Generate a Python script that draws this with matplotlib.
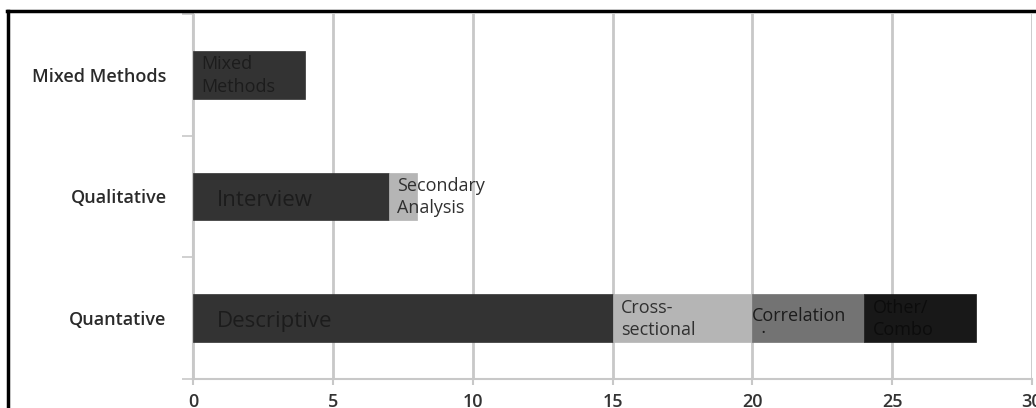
import matplotlib
matplotlib.use("Agg")
import matplotlib.pyplot as plt
from matplotlib.lines import Line2D

plt.rcParams['font.family'] = ['Open Sans', 'DejaVu Sans']

# Study designs grouped by research approach
categories = ["Quantative", "Qualitative", "Mixed Methods"]

quant_labels = ["Descriptive", "Cross-\nsectional", "Correlation\n  .", "Other/\nCombo"]
quant_values = [15, 5, 4, 4]
quant_colors = ["#333333", "#b5b5b5", "#737373", "#181818"]
quant_text = ["#1c1c1c", "#303030", "#1c1c1c", "#0c0c0c"]

qual_labels = ["Interview", "Secondary\nAnalysis"]
qual_values = [7, 1]
qual_colors = ["#333333", "#b5b5b5"]
qual_text = ["#1c1c1c", "#303030"]

mixed_labels = ["Mixed\nMethods"]
mixed_values = [4]
mixed_colors = ["#333333"]
mixed_text = ["#1c1c1c"]

x_ticks = [0, 5, 10, 15, 20, 25, 30]

W, H = 1036, 408
fig = plt.figure(figsize=(W / 100, H / 100), dpi=100)
ax = fig.add_axes([193 / W, (H - 379) / H, (1032 - 193) / W, (379 - 14) / H])

rows = [
    (0, quant_labels, quant_values, quant_colors, quant_text),
    (1, qual_labels, qual_values, qual_colors, qual_text),
    (2, mixed_labels, mixed_values, mixed_colors, mixed_text),
]

bar_h = 0.39
for y, labels, values, colors, tcols in rows:
    left = 0
    for lab, val, col, tc in zip(labels, values, colors, tcols):
        ax.barh(y, val, left=left, height=bar_h, color=col, edgecolor=col,
                linewidth=0.5, zorder=3)
        if "\n" not in lab:
            ax.text(left + 0.85, y - 0.03, lab, ha="left", va="center",
                    fontsize=16, color=tc, zorder=4)
        elif lab.endswith("."):
            # the stray dot sits tight under its label
            ax.text(left + 0.0, y - 0.03, lab, ha="left", va="center",
                    fontsize=13, color=tc, linespacing=0.6, zorder=4)
        else:
            ax.text(left + 0.3, y - 0.005, lab, ha="left", va="center",
                    fontsize=13, color=tc, linespacing=1.3, zorder=4)
        left += val

ax.set_xlim(0, 30)
ax.set_ylim(-0.5, 2.5)
ax.set_xticks(x_ticks)
ax.set_xticklabels([str(t) for t in x_ticks], fontsize=13, color="#333333",
                   fontweight="semibold")
ax.set_yticks([0, 1, 2])
ax.set_yticklabels(categories, fontsize=13, color="#2a2a2a", fontweight="semibold")
ax.set_yticks([-0.5, 0.5, 1.5, 2.5], minor=True)

ax.tick_params(axis="y", which="major", length=0, pad=19)
ax.tick_params(axis="y", which="minor", length=8, width=1.2, color="#c8c8c8", direction="out")
ax.tick_params(axis="x", which="major", length=4, width=1.5, color="#c8c8c8", pad=6)

ax.grid(axis="x", color="#c8c8c8", linewidth=2, zorder=0)
for s in ["top", "right"]:
    ax.spines[s].set_visible(False)
ax.spines["left"].set_color("#c8c8c8")
ax.spines["left"].set_linewidth(1.5)
ax.spines["bottom"].set_color("#c8c8c8")
ax.spines["bottom"].set_linewidth(1.5)

# Outer frame (top and left edges)
fig.add_artist(Line2D([7 / W, 1], [(H - 11) / H, (H - 11) / H], color="black",
                      linewidth=2.5, transform=fig.transFigure))
fig.add_artist(Line2D([8 / W, 8 / W], [0, (H - 11) / H], color="black",
                      linewidth=2.5, transform=fig.transFigure))

fig.savefig("out.png", dpi=100, facecolor="white")
